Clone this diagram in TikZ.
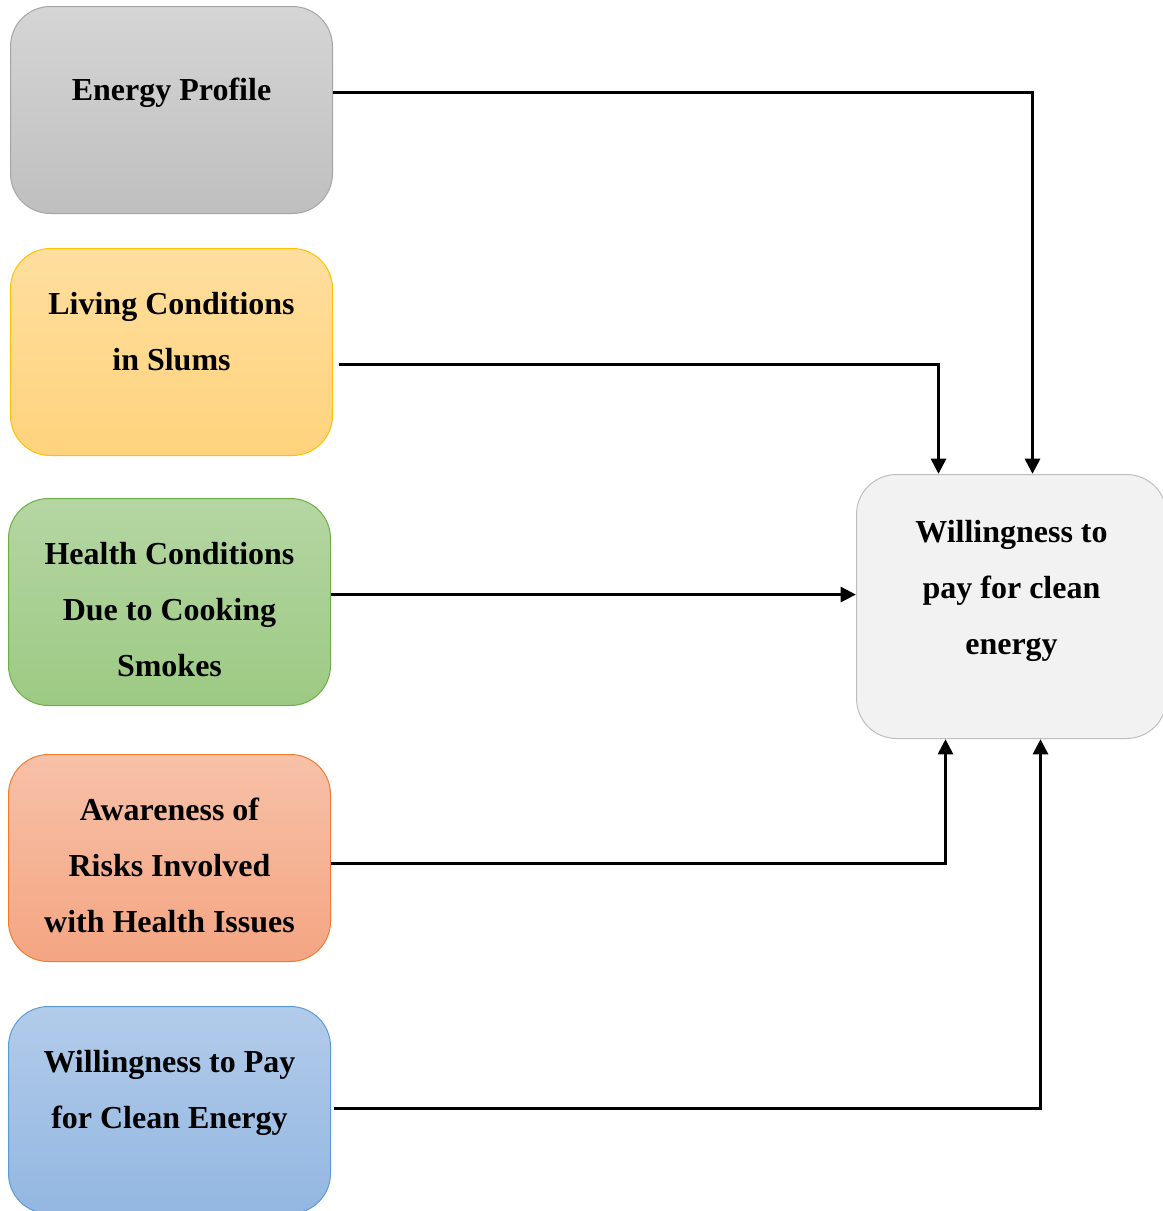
\documentclass[tikz,border=0pt]{standalone}
\usepackage{fontspec}
\setmainfont{Liberation Serif}
\usetikzlibrary{arrows.meta}
\usetikzlibrary{positioning}

\definecolor{profTop}{HTML}{D5D5D5}
\definecolor{profBot}{HTML}{BFBFBF}
\definecolor{profLine}{HTML}{A6A6A6}
\definecolor{slumTop}{HTML}{FFDE9E}
\definecolor{slumBot}{HTML}{FFD37D}
\definecolor{slumLine}{HTML}{FFC000}
\definecolor{heltTop}{HTML}{B5D6A3}
\definecolor{heltBot}{HTML}{9CCA83}
\definecolor{heltLine}{HTML}{70AD47}
\definecolor{awarTop}{HTML}{F7C1A8}
\definecolor{awarBot}{HTML}{F4A582}
\definecolor{awarLine}{HTML}{ED7D31}
\definecolor{wtpTop}{HTML}{B2CBEA}
\definecolor{wtpBot}{HTML}{93B7E1}
\definecolor{wtpLine}{HTML}{5B9BD5}
\definecolor{goalFill}{HTML}{F2F2F2}
\definecolor{goalLine}{HTML}{BFBFBF}

\begin{document}
\begin{tikzpicture}[x=0.75pt,y=-0.75pt,
			box/.style={draw, rounded corners=30pt, line width=0.75pt, inner sep=0pt,
				minimum width=241.5pt, minimum height=155.25pt, anchor=north west},
			lbl/.style={font=\bfseries\fontsize{24}{42}\selectfont, align=center,
				anchor=base, inner sep=0pt},
			link/.style={line width=2.8pt, -{Triangle[length=11.5pt,width=11pt]}}]
			\useasboundingbox (0,0) rectangle (1163,1211);
			
			% factor boxes
			\node[box, draw=profLine, top color=profTop, bottom color=profBot] (profile) at (10,6) {};
			\node[box, draw=slumLine, top color=slumTop, bottom color=slumBot] (slums) at (10,248) {};
			\node[box, draw=heltLine, top color=heltTop, bottom color=heltBot] (health) at (8,498) {};
			\node[box, draw=awarLine, top color=awarTop, bottom color=awarBot] (aware) at (8,754) {};
			\node[box, draw=wtpLine, top color=wtpTop, bottom color=wtpBot] (wtp) at (8,1006) {};
			\node[box, draw=goalLine, fill=goalFill, minimum width=232.5pt, minimum height=198pt] (goal) at (856,474) {};
			
			% labels (base = last line)
			\node[lbl] (profile-t) at ([yshift=-70.5pt]profile.north) {Energy Profile};
			\node[lbl] (slums-t) at ([yshift=-91.5pt]slums.north) {Living Conditions\\in Slums};
			\node[lbl] (health-t) at ([yshift=-133.5pt]health.north) {Health Conditions\\Due to Cooking\\Smokes};
			\node[lbl] (aware-t) at ([yshift=-133.5pt]aware.north) {Awareness of\\Risks Involved\\with Health Issues};
			\node[lbl] (wtp-t) at ([yshift=-91.5pt]wtp.north) {Willingness to Pay\\for Clean Energy};
			\node[lbl] (goal-t) at ([yshift=-135pt]goal.north) {Willingness to\\pay for clean\\energy};
			
			% connectors
			\draw[link] ([yshift=13.1pt]profile.east) -| ([xshift=15.75pt]goal.north);
			\draw[link] ([xshift=4.5pt,yshift=-9.4pt]slums.east) -| ([xshift=-54.75pt]goal.north);
			\draw[link] ([yshift=5.6pt]health.east) coordinate (h) -- (h -| goal.west);
			\draw[link] ([yshift=-4.1pt]aware.east) -| ([xshift=-49.5pt]goal.south);
			\draw[link] ([xshift=2.25pt,yshift=1.1pt]wtp.east) -| ([xshift=21.75pt]goal.south);
		\end{tikzpicture}
\end{document}
